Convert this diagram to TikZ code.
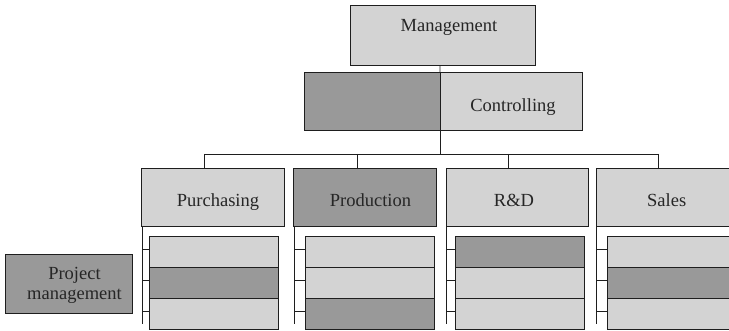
\documentclass[tikz,border=0pt]{standalone}
\usepackage{fontspec}
\setmainfont{Liberation Serif}
\usetikzlibrary{fit}
\definecolor{boxlight}{HTML}{D3D3D3}
\definecolor{boxdark}{HTML}{999999}
\definecolor{edge}{HTML}{1E1E1E}
\begin{document}
\begin{tikzpicture}[x=1pt,y=-1pt,
  box/.style={draw=edge, line width=0.9pt, inner sep=0pt, outer sep=0pt},
  lightbox/.style={box, fill=boxlight},
  darkbox/.style={box, fill=boxdark},
  wire/.style={draw=edge, line width=0.9pt},
  lbl/.style={inner sep=0pt, text=black!85, font=\fontsize{18.5}{20}\selectfont}]
\useasboundingbox (0,0) rectangle (729,331);

% top levels
\node[lightbox, fit={(350,5.7) (535.7,65.3)}] (mgmt) {};
\node[darkbox,  fit={(304.7,72.3) (440,130)}] (staff) {};
\node[lightbox, fit={(440,72.3) (582.3,130)}] (ctrl) {};

% departments
\node[lightbox, fit={(141.7,168.3) (284.3,226)}] (pur) {};
\node[darkbox,  fit={(293.7,168.3) (436,226)}] (prod) {};
\node[lightbox, fit={(446,168.3) (588.3,226)}] (rd) {};
\node[lightbox, fit={(596.3,168.3) (739,226)}] (sal) {};

% sub units (three rows per department)
\node[lightbox, fit={(149.3,236) (278.3,267.1)}] (pur1) {};
\node[darkbox,  fit={(149.3,267.1) (278.3,298.2)}] (pur2) {};
\node[lightbox, fit={(149.3,298.2) (278.3,329.3)}] (pur3) {};

\node[lightbox, fit={(305.7,236) (434.3,267.1)}] (prod1) {};
\node[lightbox, fit={(305.7,267.1) (434.3,298.2)}] (prod2) {};
\node[darkbox,  fit={(305.7,298.2) (434.3,329.3)}] (prod3) {};

\node[darkbox,  fit={(455.7,236) (584.3,267.1)}] (rd1) {};
\node[lightbox, fit={(455.7,267.1) (584.3,298.2)}] (rd2) {};
\node[lightbox, fit={(455.7,298.2) (584.3,329.3)}] (rd3) {};

\node[lightbox, fit={(607.7,236) (736.3,267.1)}] (sal1) {};
\node[darkbox,  fit={(607.7,267.1) (736.3,298.2)}] (sal2) {};
\node[lightbox, fit={(607.7,298.2) (736.3,329.3)}] (sal3) {};

% project management
\node[darkbox, fit={(5,254) (132.7,313.3)}] (pm) {};

% labels
\node[lbl, anchor=base] (tmgmt) at (449,32) {Management};
\node[lbl, anchor=base] (tctrl) at (513,111.7) {Controlling};
\node[lbl, anchor=base] (tpur) at (218,206.7) {Purchasing};
\node[lbl, anchor=base] (tprod) at (370.5,206.7) {Production};
\node[lbl, anchor=base] (trd) at (514,206.7) {R\&D};
\node[lbl, anchor=base] (tsal) at (666.7,206.7) {Sales};
\node[lbl, anchor=base, align=center] (tpm) at (74.5,300) {Project\\management};

% bus
\coordinate (busmid) at (440,154);
\coordinate (drop1) at (204,154);
\coordinate (drop2) at (357,154);
\coordinate (drop3) at (508,154);
\coordinate (drop4) at (658.7,154);

\draw[wire] (mgmt.south -| ctrl.west) -- (staff.north east);
\draw[wire] (ctrl.south west) -- (busmid);
\draw[wire] (drop1) -- (drop4);
\draw[wire] (drop1) -- (drop1 |- pur.north);
\draw[wire] (drop2) -- (drop2 |- prod.north);
\draw[wire] (drop3) -- (drop3 |- rd.north);
\draw[wire] (drop4) -- (drop4 |- sal.north);

% spines with ticks to each sub unit
\foreach \d in {pur,prod,rd,sal}{
  \coordinate (\d sp) at ([xshift=0.6pt]\d.south west);
  \draw[wire] (\d sp) -- ([yshift=-98pt]\d sp);
  \foreach \r in {1,2,3}{
    \draw[wire] ([yshift=2.5pt]\d\r.west) -- ([yshift=2.5pt]\d\r.west -| \d sp);
  }
}
\end{tikzpicture}
\end{document}
